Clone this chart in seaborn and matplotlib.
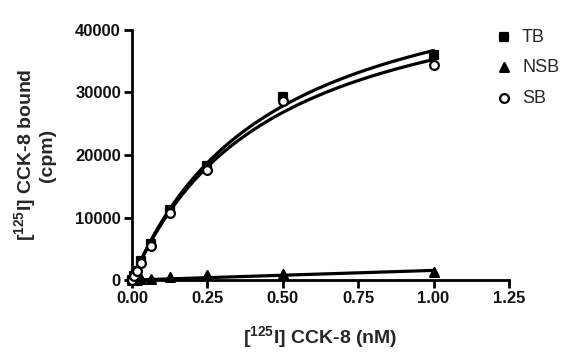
import numpy as np
import pandas as pd
import matplotlib
matplotlib.use("Agg")
import matplotlib.pyplot as plt
import seaborn as sns

# Data
conc = [0.0, 0.0078, 0.0156, 0.03125, 0.0625, 0.125, 0.25, 0.5, 1.0]
tb = [0, 700, 1500, 3000, 5800, 11200, 18300, 29300, 36000]
nsb = [0, 30, 60, 120, 250, 450, 750, 1000, 1300]
sb = [0, 650, 1400, 2800, 5500, 10800, 17600, 28600, 34400]
series_names = ["TB", "NSB", "SB"]
x_ticks = [0.0, 0.25, 0.5, 0.75, 1.0, 1.25]
y_ticks = [0, 10000, 20000, 30000, 40000]

sns.set_theme(style="ticks")
plt.rcParams['font.family'] = ['Liberation Sans', 'DejaVu Sans']
plt.rcParams['mathtext.fontset'] = 'custom'
plt.rcParams['mathtext.rm'] = 'Liberation Sans:bold'
plt.rcParams['mathtext.bf'] = 'Liberation Sans:bold'

rows = []
for name, vals in zip(series_names, [tb, nsb, sb]):
    for c, v in zip(conc, vals):
        rows.append({"conc": c, "bound": v, "series": name})
df = pd.DataFrame(rows)

# curve fits derived from the data (one-site hyperbola for TB/SB, linear for NSB)
xf = np.linspace(0, 1.0, 200)
def fit_hyper(x, y):
    x = np.asarray(x); y = np.asarray(y, float)
    best = None
    for kd in np.linspace(0.05, 3, 3000):
        f = x / (kd + x)
        bmax = (y * f).sum() / (f * f).sum()
        sse = ((y - bmax * f) ** 2).sum()
        if best is None or sse < best[0]:
            best = (sse, kd, bmax)
    return best[2] * xf / (best[1] + xf)
def fit_lin(x, y):
    x = np.asarray(x); y = np.asarray(y, float)
    k = (x * y).sum() / (x * x).sum()
    return k * xf

fits = pd.concat([
    pd.DataFrame({"conc": xf, "bound": fit_hyper(conc, tb), "series": "TB"}),
    pd.DataFrame({"conc": xf, "bound": fit_lin(conc, nsb), "series": "NSB"}),
    pd.DataFrame({"conc": xf, "bound": fit_hyper(conc, sb), "series": "SB"}),
])

fig = plt.figure(figsize=(5.87, 3.6), dpi=100)
ax = fig.add_axes([0.225, 0.222, 0.642, 0.695])

sns.lineplot(data=fits, x="conc", y="bound", units="series", estimator=None,
             color="black", lw=2.3, ax=ax, legend=False)
for l in ax.lines:
    l.set_clip_on(False)

markers = {"TB": "s", "NSB": "^", "SB": "o"}
faces = {"TB": "black", "NSB": "black", "SB": "white"}
for name in series_names:
    d = df[df.series == name]
    sns.scatterplot(data=d, x="conc", y="bound", marker=markers[name],
                    color=faces[name], edgecolor="black", linewidth=1.6,
                    s=40, ax=ax, label=name, clip_on=False, zorder=3)

ax.set_xlim(0, 1.25)
ax.set_ylim(0, 40000)
ax.set_xticks(x_ticks)
ax.set_xticklabels([f"{t:.2f}" for t in x_ticks])
ax.set_yticks(y_ticks)
ax.set_yticklabels([str(t) for t in y_ticks])
for lab in ax.get_xticklabels() + ax.get_yticklabels():
    lab.set_fontweight("bold")
    lab.set_fontsize(12)
    lab.set_color("#111111")
ax.tick_params(direction="out", length=6, width=2, color="black", pad=2)
for s in ["left", "bottom"]:
    ax.spines[s].set_linewidth(2)
    ax.spines[s].set_color("black")
sns.despine(ax=ax)

ax.set_xlabel(r"[$^{125}$I] CCK-8 (nM)", fontsize=14, fontweight="bold", labelpad=13)
ax.set_ylabel("[$^{125}$I] CCK-8 bound\n(cpm)", fontsize=14, fontweight="bold",
              labelpad=14, linespacing=1.0)

leg = ax.legend(loc="upper left", bbox_to_anchor=(0.915, 1.07), frameon=False,
                fontsize=13, handletextpad=0.4, labelspacing=0.75, handlelength=1.2,
                markerscale=1.0)

fig.savefig("out.png", dpi=100)
